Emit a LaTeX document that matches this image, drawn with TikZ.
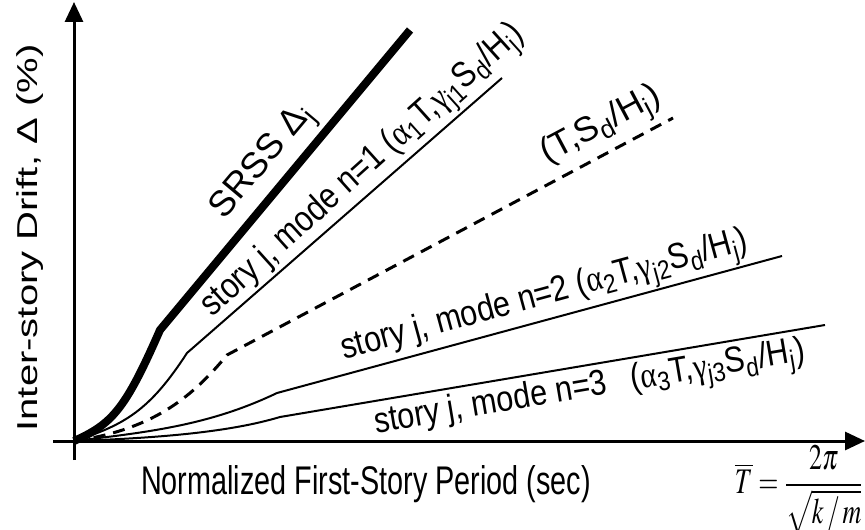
\documentclass[tikz,border=0pt]{standalone}
\usepackage{amsmath}
\usepackage{mathptmx}
\usepackage[no-math]{fontspec}
\setmainfont{Liberation Sans}
\newfontfamily\grk{Liberation Serif}
\newcommand{\galpha}{{\grk α}}
\newcommand{\ggamma}{{\grk γ}}
\usetikzlibrary{arrows.meta}

\begin{document}
\begin{tikzpicture}[x=0.5pt,y=-0.5pt,
  font=\fontsize{20}{24}\selectfont,
  axis/.style={line width=1.5pt,-{Triangle[length=10pt,width=9pt]}},
  curve/.style={line width=1pt},
  lbl/.style={inner sep=0pt,xscale=0.72},
  clbl/.style={inner sep=0pt,xscale=0.85,font=\fontsize{18}{22}\selectfont}]
\useasboundingbox (0,0) rectangle (865,529);

% axes
\coordinate (ybot) at (74,460);
\coordinate (ytop) at (74,2);
\coordinate (xleft) at (53,441);
\coordinate (xright) at (865,441);
\draw[axis] (ybot) -- (ytop);
\draw[axis] (xleft) -- (xright);

\coordinate (o) at (74,441);

% SRSS
\coordinate (kink0) at (160,330);
\coordinate (end0) at (410,30);
\draw[line width=4pt] (o) .. controls (112,424) and (125,410) .. (kink0) -- (end0);

% mode 1
\coordinate (kink1) at (187,353);
\coordinate (end1) at (502,78);
\draw[curve] (o) .. controls (125,425) and (150,410) .. (kink1) -- (end1);

% T, Sd/Hj
\coordinate (kinkT) at (227,355);
\coordinate (endT) at (673,118);
\draw[line width=1.5pt,dash pattern=on 6pt off 4pt] (o) .. controls (150,430) and (190,400) .. (kinkT) -- (endT);

% mode 2
\coordinate (kink2) at (277,393);
\coordinate (end2) at (782,256);
\draw[curve] (o) .. controls (150,432) and (210,425) .. (kink2) -- (end2);

% mode 3
\coordinate (kink3) at (280,417);
\coordinate (end3) at (825,325);
\draw[curve] (o) .. controls (160,438) and (230,432) .. (kink3) -- (end3);

% labels
\node[rotate=50,clbl,xscale=1/0.85] (srsslab) at (264,163) {SRSS Δ\textsubscript{j}};
\node[rotate=42,clbl] (mode1lab) at (364,172) {story j, mode n=1 (\galpha\textsubscript{1}T,\ggamma\textsubscript{j1}S\textsubscript{d}/H\textsubscript{j})};
\node[rotate=28,clbl,xscale=1/0.85,font=\fontsize{17.5}{21}\selectfont] (Tlab) at (602,127) {(T,S\textsubscript{d}/H\textsubscript{j})};
\node[rotate=15.2,clbl] (mode2lab) at (545,298) {story j, mode n=2 (\galpha\textsubscript{2}T,\ggamma\textsubscript{j2}S\textsubscript{d}/H\textsubscript{j})};
\node[rotate=9.6,clbl] (mode3lab) at (590,390) {story j, mode n=3\hspace{0.8em}(\galpha\textsubscript{3}T,\ggamma\textsubscript{j3}S\textsubscript{d}/H\textsubscript{j})};

\node[lbl,rotate=90] (ylab) at (30,238) {Inter-story Drift, Δ (\%)};
\node[lbl] (xlab) at (366,484) {Normalized First-Story Period (sec)};
\node[lbl,font=\fontsize{18}{22}\selectfont] (formula) at (799,490) {$\overline{T}=\dfrac{2\pi}{\sqrt{k\mkern2mu/\mkern2mu m}}$};
\end{tikzpicture}
\end{document}
